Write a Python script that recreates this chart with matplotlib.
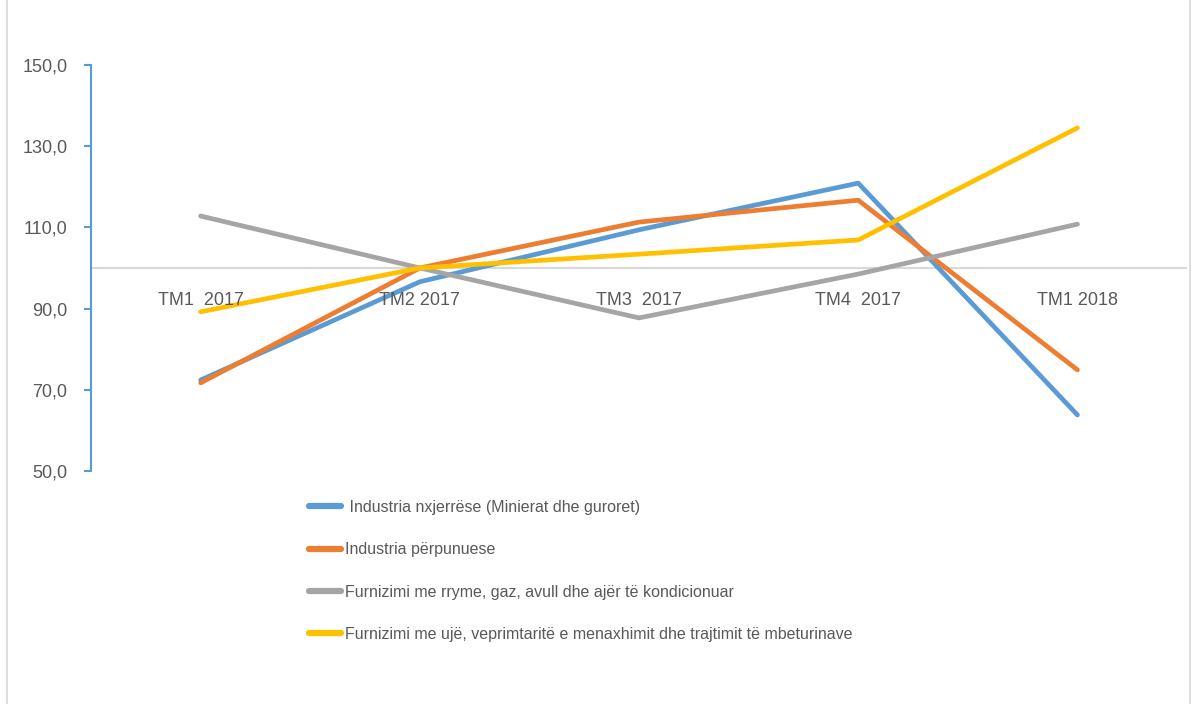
import matplotlib.pyplot as plt
import matplotlib.patches as patches

# Data
quarters = ["TM1  2017", "TM2 2017", "TM3  2017", "TM4  2017", "TM1 2018"]
nxjerrese = [72.4, 96.6, 109.4, 120.9, 63.8]
perpunuese = [71.7, 100.0, 111.3, 116.7, 74.9]
energji = [112.8, 100.0, 87.7, 98.5, 110.8]
uje = [89.2, 100.0, 103.4, 106.9, 134.5]
series_names = [
    " Industria nxjerrëse (Minierat dhe guroret)",
    "Industria përpunuese",
    "Furnizimi me rryme, gaz, avull dhe ajër të kondicionuar",
    "Furnizimi me ujë, veprimtaritë e menaxhimit dhe trajtimit të mbeturinave",
]
yticks = [50, 70, 90, 110, 130, 150]

colors = ["#5B9BD5", "#ED7D31", "#A5A5A5", "#FFC000"]
plt.rcParams["font.family"] = ["Liberation Sans Narrow", "Liberation Sans", "DejaVu Sans"]
text_color = "#595959"

fig = plt.figure(figsize=(11.93, 7.04), dpi=100)
ax = fig.add_axes([0.0763, 0.331, 0.9187, 0.5767])

x = list(range(len(quarters)))
lines = []
for vals, c, name in zip([nxjerrese, perpunuese, energji, uje], colors, series_names):
    ln, = ax.plot(x, vals, color=c, lw=3.4, solid_capstyle="round", label=name)
    lines.append(ln)

ax.set_xlim(-0.5, 4.5)
ax.set_ylim(50, 150)
ax.set_yticks(yticks)
ax.set_yticklabels([f"{v:.1f}".replace(".", ",") for v in yticks],
                   fontsize=13, color=text_color)
ax.tick_params(axis="y", direction="out", length=5, width=1.5, color="#5B9BD5", pad=12)
ax.set_xticks([])

for s in ["top", "right", "bottom"]:
    ax.spines[s].set_visible(False)
ax.spines["left"].set_color("#5B9BD5")
ax.spines["left"].set_linewidth(1.5)

# category axis crossing at 100
ax.axhline(100, color="#D9D9D9", lw=1.5, zorder=0)
for xi, lab in zip(x, quarters):
    ax.text(xi, 92, lab, ha="center", va="center", fontsize=13, color=text_color)

leg = fig.legend(handles=lines, loc="upper left", bbox_to_anchor=(0.252, 0.301),
                 frameon=False, fontsize=11.5, handlelength=2.0, handletextpad=0.3,
                 labelspacing=1.71, borderpad=0)
for t in leg.get_texts():
    t.set_color(text_color)
for h in leg.legend_handles:
    h.set_linewidth(4.5)

# outer chart border
border = patches.Rectangle((7 / 1193, -0.01), 1183 / 1193, 1.02, transform=fig.transFigure,
                           fill=False, edgecolor="#D9D9D9", lw=1.2)
fig.patches.append(border)

fig.savefig("out.png", dpi=100)
